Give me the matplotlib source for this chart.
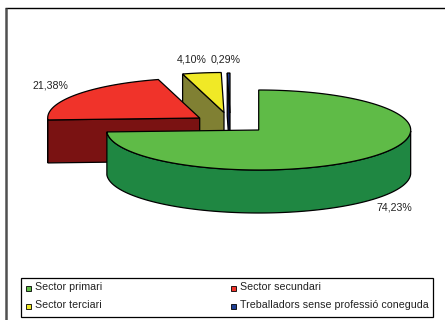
import numpy as np
import matplotlib
matplotlib.use('Agg')
import matplotlib.pyplot as plt
from matplotlib.patches import Polygon, Rectangle

labels = ['Sector primari', 'Sector secundari', 'Sector terciari', 'Treballadors sense professió coneguda']
values = [74.23, 21.38, 4.10, 0.29]
pct_text = ['74,23%', '21,38%', '4,10%', '0,29%']
top_colors = ['#5fbb47', '#f0332a', '#f0e926', '#1f3f94']
side_colors = ['#1f8742', '#7a1212', '#808033', '#101a4a']

plt.rcParams['font.family'] = ['Liberation Sans', 'DejaVu Sans']

fig = plt.figure(figsize=(4.45, 3.2), dpi=100)
ax = fig.add_axes([0, 0, 1, 1])
ax.set_xlim(0, 445)
ax.set_ylim(320, 0)
ax.axis('off')

A = 152
B = 40
DEPTH = 43
centers = [(258.7, 130), (199.7, 118), (224, 112.5), (230, 113)]

# frame
ax.plot([5, 445], [8, 8], color='black', lw=1, solid_capstyle='butt')
ax.plot([6, 6], [8, 320], color='#505050', lw=1.8, solid_capstyle='butt')

# angles of each slice, clockwise from the top
ang = [90]
for v in values:
    ang.append(ang[-1] - v * 3.6)


def rim(i, n=200):
    t = np.radians(np.linspace(ang[i], ang[i + 1], n))
    cx, cy = centers[i]
    return cx + A * np.cos(t), cy - B * np.sin(t)


def draw_slice(i, z):
    cx, cy = centers[i]
    x, y = rim(i)
    # front wall: only the part of the rim facing the viewer
    front = y >= cy
    if front.any():
        fx, fy = x[front], y[front]
        wall = np.column_stack([np.r_[fx, fx[::-1]], np.r_[fy, fy[::-1] + DEPTH]])
        ax.add_patch(Polygon(wall, fc=side_colors[i], ec='black', lw=0.9, zorder=z))
    # cut face on the left side of the small slices
    if i > 0:
        px, py = x[0], y[0]
        face = [(px, py), (cx, cy), (cx, cy + DEPTH), (px, py + DEPTH)]
        ax.add_patch(Polygon(face, fc=side_colors[i], ec='black', lw=0.9, zorder=z))
    top = np.column_stack([np.r_[cx, x], np.r_[cy, y]])
    ax.add_patch(Polygon(top, fc=top_colors[i], ec='black', lw=0.9, zorder=z + 0.5))


draw_slice(3, 2)
draw_slice(2, 3)
draw_slice(1, 4)
draw_slice(0, 5)

pct_pos = [(394, 208), (50, 85), (192, 60), (226, 60)]
for s, (px, py) in zip(pct_text, pct_pos):
    ax.text(px, py, s, fontsize=7.7, color='#222222', ha='center', va='center', zorder=8)

# legend
ax.add_patch(Rectangle((20.5, 277.5), 412.5, 39.5, fc='white', ec='black', lw=0.9, zorder=6))
leg_pos = [(28, 287), (233.5, 287), (28, 305), (233.5, 305)]
for name, col, (lx, ly) in zip(labels, top_colors, leg_pos):
    ax.add_patch(Rectangle((lx - 2.5, ly - 1.5), 5, 5, fc=col, ec='black', lw=0.6, zorder=7))
    ax.text(lx + 7, ly, name, fontsize=7.7, color='#222222', ha='left', va='center', zorder=7)

fig.savefig('out.png', dpi=100)
